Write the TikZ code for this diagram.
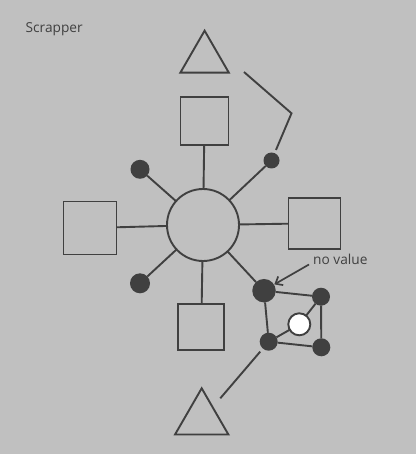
\documentclass[tikz,border=0pt]{standalone}
\usepackage{fontspec}
\setmainfont{Open Sans}
\usetikzlibrary{shapes.geometric,arrows.meta}
\definecolor{bg}{HTML}{C0C0C0}
\definecolor{ink}{HTML}{404040}
\tikzset{
  ln/.style={draw=ink,line width=1.9pt},
  sq/.style={ln,rectangle,inner sep=0pt,outer sep=0pt},
  tri/.style={ln,regular polygon,regular polygon sides=3,inner sep=0pt,outer sep=0pt},
  dot/.style={circle,fill=ink,inner sep=0pt,outer sep=0pt,minimum size=#1},
  hole/.style={circle,fill=white,draw=ink,line width=1.9pt,inner sep=0pt,outer sep=0pt,minimum size=#1},
  lbl/.style={text=ink,font=\fontsize{13.7}{16}\selectfont,inner sep=0pt},
}
\begin{document}
\begin{tikzpicture}[x=1pt,y=-1pt]
\fill[bg] (0,0) rectangle (416,454);
\useasboundingbox (0,0) rectangle (416,454);
\node[lbl,anchor=west] (title) at (25.5,29.5) {Scrapper};
% shapes
\node[tri,minimum size=56pt] (triT) at (204.6,58.7) {};
\node[tri,minimum size=61.6pt] (triB) at (201.7,419.1) {};
\node[sq,minimum width=48pt,minimum height=48pt] (sqT) at (204.5,121.3) {};
\node[sq,minimum width=53pt,minimum height=53pt] (sqL) at (90,228) {};
\node[sq,minimum width=52pt,minimum height=51pt] (sqR) at (314.5,223.3) {};
\node[sq,minimum width=46pt,minimum height=46pt] (sqB) at (201.3,327.2) {};
\node[ln,circle,inner sep=0pt,outer sep=0pt,minimum size=72pt] (hub) at (203,225) {};
\node[dot=19pt] (dUL) at (140,169.3) {};
\node[dot=16pt] (dUR) at (271.5,160.5) {};
\node[dot=20pt] (dLL) at (140,283.3) {};
\node[dot=23.5pt] (dBig) at (264,290.7) {};
\node[dot=18pt] (dTR) at (321,296.7) {};
\node[dot=18pt] (dBR) at (321.3,347.3) {};
\node[dot=18pt] (dBL) at (268.7,341.7) {};
\node[hole=22pt] (wh) at (299.3,324.3) {};
\node[lbl,anchor=west] (nv) at (313,259.5) {no value};
\coordinate (k1) at (244,72);
\coordinate (k2) at (291.5,113.3);
\coordinate (b1) at (220.3,398.3);
% connectors
\draw[ln] (sqT) -- (hub);
\draw[ln] (sqL) -- (hub);
\draw[ln] (sqR) -- (hub);
\draw[ln] (sqB) -- (hub);
\draw[ln] (dUL) -- (hub);
\draw[ln] (dUR) -- (hub);
\draw[ln] (dLL) -- (hub);
\draw[ln] (dBig) -- (hub);
\draw[ln,shorten >=3.5pt] (k1) -- (k2) -- (dUR);
\draw[ln] (dBig) -- (dTR);
\draw[ln] (dTR) -- (dBR);
\draw[ln] (dBR) -- (dBL);
\draw[ln] (dBL) -- (dBig);
\draw[ln] (dBL) -- (wh);
\draw[ln] (wh) -- (dTR);
\draw[ln,shorten >=4pt] (b1) -- (dBL);
\draw[draw=ink,line width=1.7pt,-{Straight Barb[length=6pt,width=10pt]}] (nv.west) ++(-4,5) coordinate (a0) -- ([xshift=2pt,yshift=-2pt]dBig.north east);
\end{tikzpicture}
\end{document}
